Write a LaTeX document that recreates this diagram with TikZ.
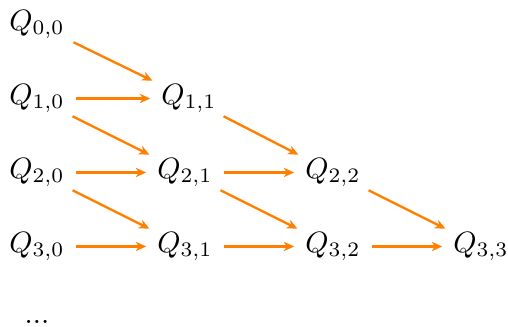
\documentclass[tikz,border=0pt]{standalone}
\usetikzlibrary{arrows.meta}
\begin{document}
\begin{tikzpicture}[x=0.34pt,y=-0.34pt,
  qnode/.style={inner xsep=3.6pt,inner ysep=1pt},
  link/.style={draw=orange,line width=0.8pt,-{Stealth[length=3.5pt,width=3.1pt,inset=1pt]}}]
\useasboundingbox (0,0) rectangle (508,327);
\node[qnode] (q00) at (37,24.5) {$Q_{0,0}$};
\node[qnode] (q10) at (37,98.5) {$Q_{1,0}$};
\node[qnode] (q20) at (37,172.5) {$Q_{2,0}$};
\node[qnode] (q30) at (37,246.5) {$Q_{3,0}$};
\node[qnode] (q11) at (189,98.5) {$Q_{1,1}$};
\node[qnode] (q21) at (185,172.5) {$Q_{2,1}$};
\node[qnode] (q31) at (185,246.5) {$Q_{3,1}$};
\node[qnode] (q22) at (333,172.5) {$Q_{2,2}$};
\node[qnode] (q32) at (333,246.5) {$Q_{3,2}$};
\node[qnode] (q33) at (481,246.5) {$Q_{3,3}$};
\node[qnode] (dots) at (37,321.5) {...};
\draw[link] (q00) -- (q11);
\draw[link] (q10) -- (q11);
\draw[link] (q10) -- (q21);
\draw[link] (q11) -- (q22);
\draw[link] (q20) -- (q21);
\draw[link] (q20) -- (q31);
\draw[link] (q21) -- (q22);
\draw[link] (q21) -- (q32);
\draw[link] (q22) -- (q33);
\draw[link] (q30) -- (q31);
\draw[link] (q31) -- (q32);
\draw[link] (q32) -- (q33);
\end{tikzpicture}
\end{document}
